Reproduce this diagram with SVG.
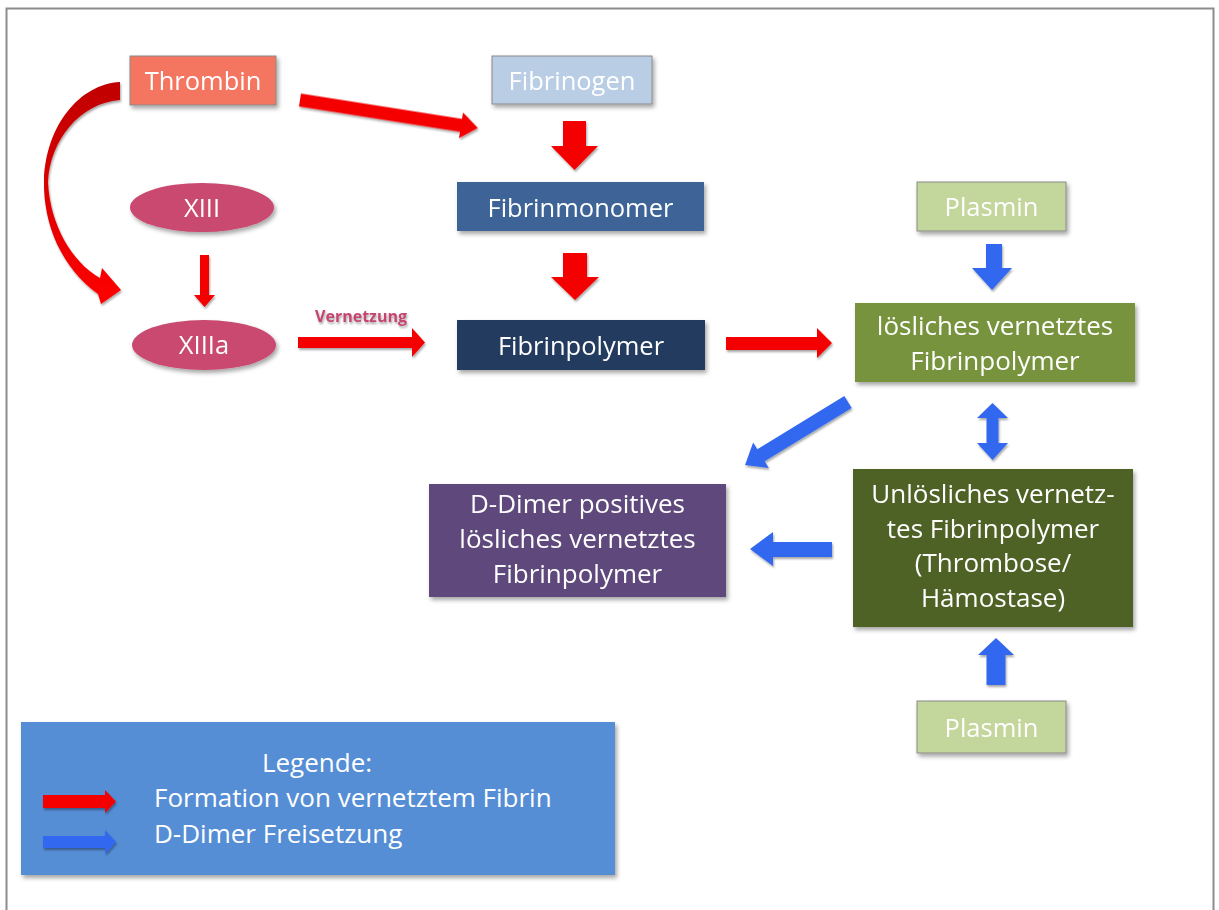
<svg xmlns="http://www.w3.org/2000/svg" width="1219" height="910" viewBox="0 0 1219 910">
<style>
.t{font-family:"Open Sans","Liberation Sans",sans-serif;fill:#fff;text-anchor:middle;font-size:25.5px}
.m{font-size:26px}
.lg{font-family:"Open Sans","Liberation Sans",sans-serif;fill:#fff;font-size:26px}
.red{fill:#f40000}
.blue{fill:#3268ef}
.box{filter:url(#sh)}
</style>
<defs>
<filter id="sh" x="-10%" y="-10%" width="130%" height="140%">
<feDropShadow dx="2" dy="3" stdDeviation="2" flood-color="#000" flood-opacity="0.35"/>
</filter>
<filter id="ash" x="-10%" y="-20%" width="130%" height="160%">
<feDropShadow dx="1" dy="2" stdDeviation="1.2" flood-color="#000" flood-opacity="0.35"/>
</filter>
<linearGradient id="cg" gradientUnits="userSpaceOnUse" x1="0" y1="82" x2="0" y2="300">
<stop offset="0" stop-color="#c00000"/>
<stop offset="0.45" stop-color="#d80000"/>
<stop offset="1" stop-color="#ff0000"/>
</linearGradient>
</defs>
<rect x="6.5" y="8.5" width="1207" height="910" fill="#fff" stroke="#8c8c8c" stroke-width="2"/>

<g id="connectors" filter="url(#ash)">
<path d="M120 82 C80 84 46 125 44 180 C43 225 62 268 98 294 L101 304 L121 290 L102 268 L100 278 C72 262 50 225 48 182 C50 140 80 103 120 100 Z" fill="url(#cg)"/>
<polygon class="red" transform="translate(300,100) rotate(8.94)" points="0,-6.5 163,-6.5 163,-13 180,0 163,13 163,6.5 0,6.5"/>
<polygon class="red" points="563,121 586,121 586,146 598,146 574.5,170 551,146 563,146"/>
<polygon class="red" points="563,253 587,253 587,277 599,277 575,300 551,277 563,277"/>
<polygon class="red" points="200,255 209,255 209,295 215,295 204.5,307 194,295 200,295"/>
<polygon class="red" points="298,337 412,337 412,328 425,342.5 412,357 412,348 298,348"/>
<polygon class="red" points="726,337 817,337 817,328 832,343 817,358 817,350 726,350"/>
<polygon class="blue" points="986,244 1002,244 1002,268 1012,268 992,290 972,268 986,268"/>
<polygon class="blue" points="992.5,403 1008,418 998.5,418 998.5,443 1008,443 992.5,460 977,443 986.5,443 986.5,418 977,418"/>
<polygon class="blue" transform="translate(848,402) rotate(148.55)" points="0,-7 102,-7 102,-15 120.7,0 102,15 102,7 0,7"/>
<polygon class="blue" points="832,542 773,542 773,532 750,549 773,566 773,557 832,557"/>
<polygon class="blue" points="986.5,685 1005.5,685 1005.5,655 1014,655 996,638 978,655 986.5,655"/>
<text x="361" y="322" font-family="Open Sans, Liberation Sans, sans-serif" font-size="16" font-weight="bold" fill="#c4456f" text-anchor="middle">Vernetzung</text>
</g>

<g id="thrombin" class="box"><rect x="130" y="56" width="146" height="49" fill="#f47461" stroke="#8a8a8a" stroke-width="1"/><text class="t" x="203" y="90">Thrombin</text></g>
<g id="fibrinogen" class="box"><rect x="492" y="56" width="160" height="48" fill="#b9cde5" stroke="#8a8a8a" stroke-width="1"/><text class="t" x="572" y="90">Fibrinogen</text></g>
<g id="fibrinmonomer" class="box"><rect x="457" y="182" width="247" height="49" fill="#3c6497"/><text class="t" x="580.5" y="217">Fibrinmonomer</text></g>
<g id="fibrinpolymer" class="box"><rect x="457" y="320" width="248" height="50" fill="#213b5f"/><text class="t" x="581" y="355">Fibrinpolymer</text></g>
<g id="xiii" class="box"><ellipse cx="202" cy="207.5" rx="72" ry="24.5" fill="#c9486f"/><text class="t" x="202" y="216.5">XIII</text></g>
<g id="xiiia" class="box"><ellipse cx="204" cy="345" rx="72" ry="25" fill="#c9486f"/><text class="t" x="204" y="354">XIIIa</text></g>
<g id="plasmin-top" class="box"><rect x="917" y="182" width="149" height="49" fill="#c3d69b" stroke="#8a8a8a" stroke-width="1"/><text class="t" x="991.5" y="216">Plasmin</text></g>
<g id="loesliches" class="box"><rect x="855" y="303" width="280" height="79" fill="#77933c"/><text class="t m" x="995" y="335">lösliches vernetztes</text><text class="t m" x="995" y="370">Fibrinpolymer</text></g>
<g id="unloesliches" class="box"><rect x="853" y="469" width="280" height="158" fill="#4f6228"/><text class="t m" x="993" y="503">Unlösliches vernetz-</text><text class="t m" x="993" y="537.5">tes Fibrinpolymer</text><text class="t m" x="993" y="572">(Thrombose/</text><text class="t m" x="993" y="606.5">Hämostase)</text></g>
<g id="ddimer" class="box"><rect x="429" y="484" width="297" height="113" fill="#5f4a7b"/><text class="t m" x="577.5" y="513">D-Dimer positives</text><text class="t m" x="577.5" y="548">lösliches vernetztes</text><text class="t m" x="577.5" y="583">Fibrinpolymer</text></g>
<g id="plasmin-bottom" class="box"><rect x="917" y="701" width="149" height="52" fill="#c3d69b" stroke="#8a8a8a" stroke-width="1"/><text class="t" x="991.5" y="737">Plasmin</text></g>
<g id="legend">
<rect class="box" x="21" y="722" width="594" height="153" fill="#558ed5"/>
<polygon class="red" filter="url(#ash)" points="43,795 105,795 105,790 116,801.5 105,813 105,808 43,808"/>
<polygon class="blue" filter="url(#ash)" points="43,836 105,836 105,830 116,842 105,854 105,848 43,848"/>
<text class="lg" x="317" y="772" text-anchor="middle">Legende:</text>
<text class="lg" x="154" y="807">Formation von vernetztem Fibrin</text>
<text class="lg" x="154" y="843">D-Dimer Freisetzung</text>
</g>
</svg>
